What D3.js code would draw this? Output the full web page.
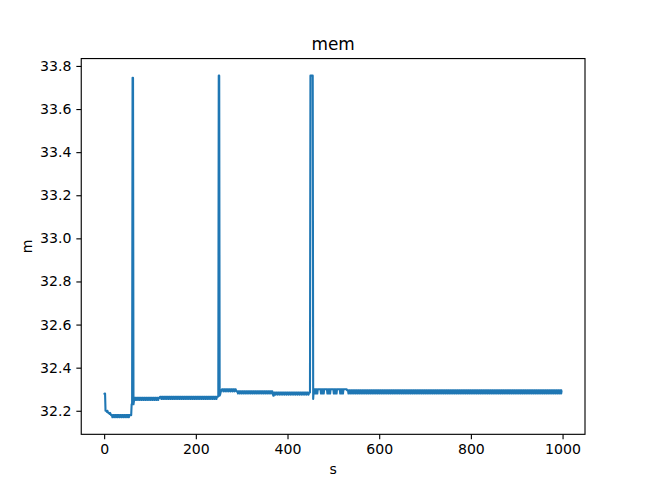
<!DOCTYPE html>
<html><head><meta charset="utf-8">
<script src="https://cdn.jsdelivr.net/npm/d3@7/dist/d3.min.js"></script>
<style>
body{margin:0;background:#fff}
svg{display:block}
text{font-family:"DejaVu Sans",sans-serif;fill:#000}
</style>
</head><body>
<svg id="chart" width="650" height="488"></svg>
<script>
const chartTitle = "mem";
const xLabel = "s";
const yLabel = "m";
const xTicks = [0, 200, 400, 600, 800, 1000];
const yTicks = [32.2, 32.4, 32.6, 32.8, 33.0, 33.2, 33.4, 33.6, 33.8];

// level codes -> memory values (m), one code per second of the series
const levelCodes  = ["a","b","c","d","e","f","g","h","i","j","k","l","m","n","o","p","q","r","s","t","u","X","Y","Z"];
const levelValues = [32.170,32.175,32.180,32.185,32.190,32.195,32.200,32.230,32.245,32.250,32.255,32.260,32.265,32.270,32.275,32.280,32.285,32.290,32.295,32.300,32.305,33.745,33.755,33.750];

const memCodes = [
  "opp",
  "gggfgf",
  "eeeded",
  "cccacccacccacccaccca",
  "cccacccacccacccaccca",
  "ccc",
  "cchh",
  "XX",
  "hij",
  "llljllljllljllljlllj",
  "llljllljllljllljlllj",
  "llljllljlllj",
  "lll",
  "mmmkmmmkmmmkmmmkmmmk",
  "mmmkmmmkmmmkmmmkmmmk",
  "mmmkmmmkmmmkmmmkmmmk",
  "mmmkmmmkmmmkmmmkmmmk",
  "mmmkmmmkmmmkmmmkmmmk",
  "mmmkmmmkmmmkmmmkmmmk",
  "mmmk",
  "mm",
  "mn",
  "YY",
  "noqrs",
  "tttrtttrtttrtttr",
  "tttrtttrtttrtttr",
  "rrrprrrprrrprrrprrrp",
  "rrrprrrprrrprrrprrrp",
  "rrrprrrprrrprrrprrrp",
  "rrrprrrprrrprrrprrrp",
  "nn",
  "qqqoqqqoqqqoqqqo",
  "qqqoqqqoqqqoqqqoqqqo",
  "qqqoqqqoqqqoqqqoqqqo",
  "qqqoqqqoqqqoqqqoqqqo",
  "qq",
  "q",
  "YYYYYY",
  "kr",
  "tptptptptttttt",
  "tptptptptttttt",
  "tptptptptttttt",
  "tptptptptttttt",
  "tptptptptttttt",
  "tt",
  "ssspssspssspssspsssp",
  "ssspssspssspssspsssp",
  "ssspssspssspssspsssp",
  "ssspssspssspssspsssp",
  "ssspssspssspssspsssp",
  "ssspssspssspssspsssp",
  "ssspssspssspssspsssp",
  "ssspssspssspssspsssp",
  "ssspssspssspssspsssp",
  "ssspssspssspssspsssp",
  "ssspssspssspssspsssp",
  "ssspssspssspssspsssp",
  "ssspssspssspssspsssp",
  "ssspssspssspssspsssp",
  "ssspssspssspssspsssp",
  "ssspssspssspssspsssp",
  "ssspssspssspssspsssp",
  "ssspssspssspssspsssp",
  "ssspssspssspssspsssp",
  "ssspssspssspssspsssp",
  "ssspssspssspssspsssp",
  "ssspssspssspssspsssp",
  "ssspssspssspssspsssp",
  "ssspsssp",
  "ss"
];

const memValues = memCodes.join("").split("").map(c => levelValues[levelCodes.indexOf(c)]);
const data = memValues.map((v, i) => ({ s: i, m: v }));

const plotLeft = 81.25, plotRight = 585, plotTop = 58.56, plotBottom = 434.32;
const svg = d3.select("#chart");

const xExt = d3.extent(data, d => d.s);
const yExt = d3.extent(data, d => d.m);
const xPad = (xExt[1] - xExt[0]) * 0.05;
const yPad = (yExt[1] - yExt[0]) * 0.05;
const x = d3.scaleLinear().domain([xExt[0] - xPad, xExt[1] + xPad]).range([plotLeft, plotRight]);
const y = d3.scaleLinear().domain([yExt[0] - yPad, yExt[1] + yPad]).range([plotBottom, plotTop]);

svg.append("defs").append("clipPath").attr("id", "clip")
  .append("rect").attr("x", plotLeft).attr("y", plotTop)
  .attr("width", plotRight - plotLeft).attr("height", plotBottom - plotTop);

svg.append("g").attr("clip-path", "url(#clip)")
  .append("path")
  .datum(data)
  .attr("fill", "none")
  .attr("stroke", "#1f77b4")
  .attr("stroke-width", 2.1)
  .attr("stroke-linejoin", "round")
  .attr("d", d3.line().x(d => x(d.s)).y(d => y(d.m)));

const fs = 14.1;
const xAxis = svg.append("g").attr("transform", `translate(0,${plotBottom})`)
  .call(d3.axisBottom(x).tickValues(xTicks).tickFormat(d3.format("d")).tickSize(4.9).tickPadding(4.9));
const yAxis = svg.append("g").attr("transform", `translate(${plotLeft},0)`)
  .call(d3.axisLeft(y).tickValues(yTicks).tickFormat(d3.format(".1f")).tickSize(4.9).tickPadding(4.9));
[xAxis, yAxis].forEach(g => {
  g.select(".domain").remove();
  g.selectAll(".tick line").attr("stroke", "#000").attr("stroke-width", 1.13);
  g.selectAll(".tick text").attr("font-size", fs).attr("font-family", "DejaVu Sans").attr("fill", "#000");
});

svg.append("rect")
  .attr("x", plotLeft).attr("y", plotTop)
  .attr("width", plotRight - plotLeft).attr("height", plotBottom - plotTop)
  .attr("fill", "none").attr("stroke", "#000").attr("stroke-width", 1.13);

svg.append("text").attr("x", (plotLeft + plotRight) / 2).attr("y", 50)
  .attr("text-anchor", "middle").attr("font-size", 16.9).text(chartTitle);
svg.append("text").attr("x", (plotLeft + plotRight) / 2).attr("y", 474)
  .attr("text-anchor", "middle").attr("font-size", fs).text(xLabel);
svg.append("text").attr("transform", `translate(32,${(plotTop + plotBottom) / 2}) rotate(-90)`)
  .attr("text-anchor", "middle").attr("font-size", fs).text(yLabel);
</script>
</body></html>
